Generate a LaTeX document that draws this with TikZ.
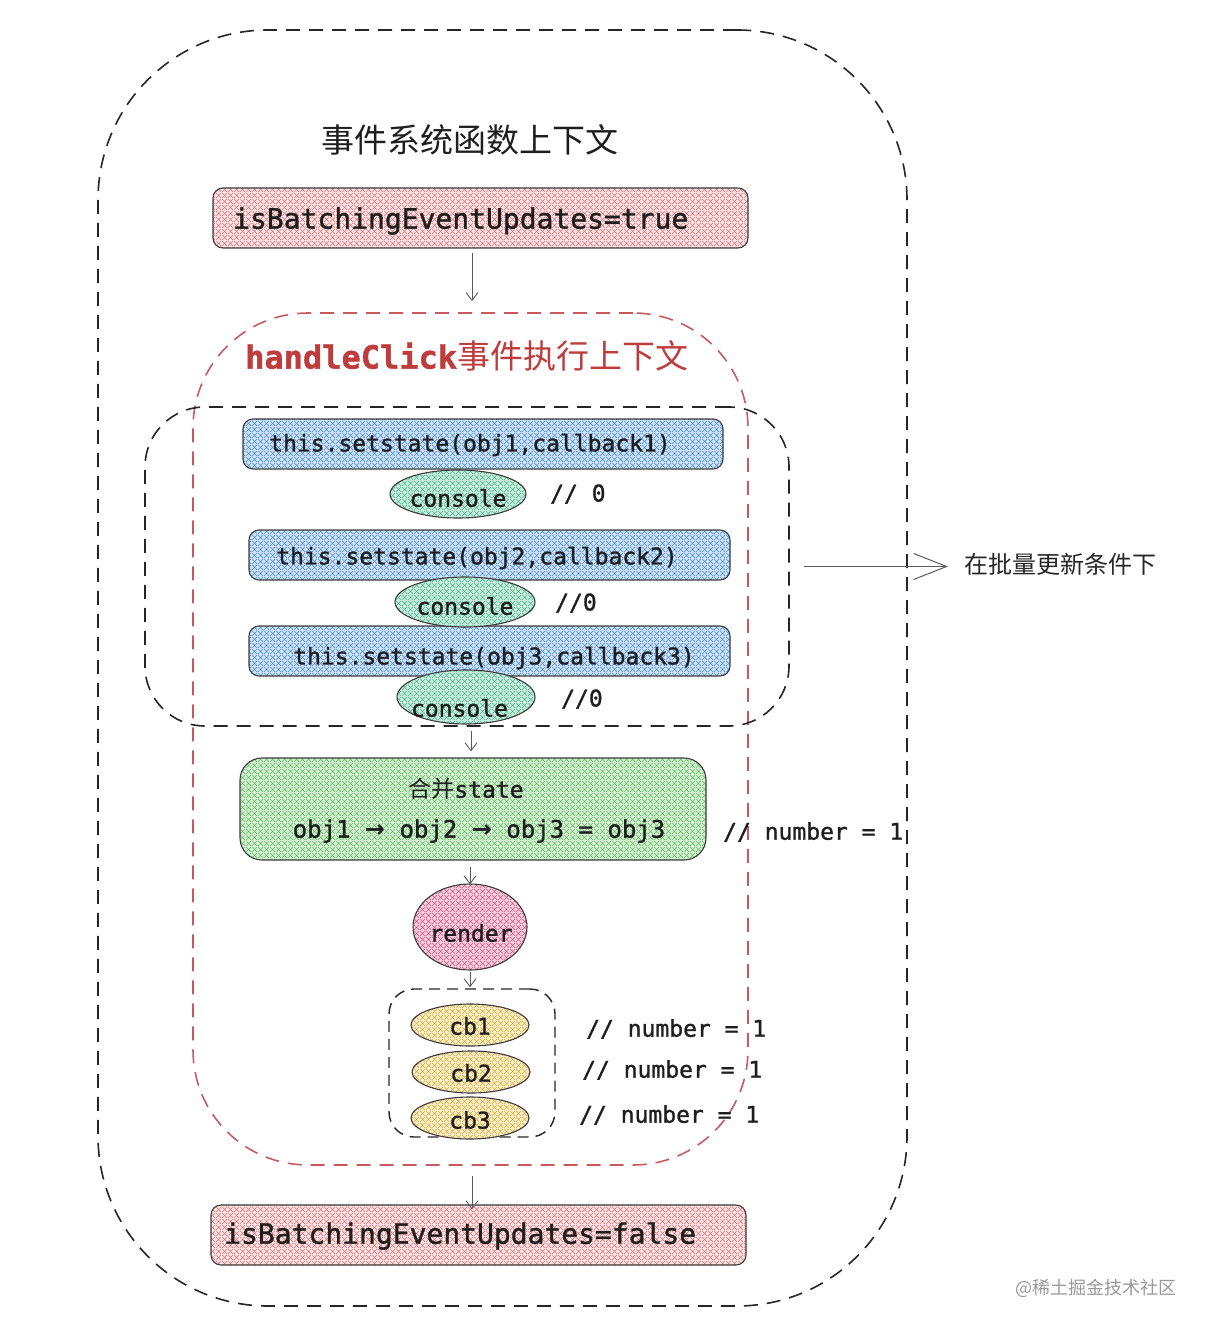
\documentclass[tikz,border=0pt]{standalone}
\usepackage{fontspec}
\setmonofont[FakeBold=1.2]{DejaVu Sans Mono}
\newfontfamily\cjk{Noto Sans CJK SC}
\newfontfamily\symf{DejaVu Sans}
\usetikzlibrary{arrows.meta,patterns.meta,shapes.geometric}
\definecolor{ink}{RGB}{30,30,30}
\definecolor{edge}{RGB}{60,60,60}
\definecolor{arrgrey}{RGB}{90,90,90}
\definecolor{redline}{RGB}{200,90,95}
\definecolor{redtext}{RGB}{190,60,60}
\definecolor{redbg}{RGB}{252,228,228}
\definecolor{redhat}{RGB}{225,120,125}
\definecolor{bluebg}{RGB}{205,228,248}
\definecolor{bluehat}{RGB}{85,140,210}
\definecolor{tealbg}{RGB}{200,238,222}
\definecolor{tealhat}{RGB}{85,180,145}
\definecolor{greenbg}{RGB}{212,240,210}
\definecolor{greenhat}{RGB}{110,190,110}
\definecolor{pinkbg}{RGB}{245,205,220}
\definecolor{pinkhat}{RGB}{210,90,130}
\definecolor{yellowbg}{RGB}{252,238,195}
\definecolor{yellowhat}{RGB}{210,175,80}
\tikzdeclarepattern{name=xhatch, type=uncolored,
  bounding box={(0pt,0pt) and (6pt,6pt)}, tile size={(6pt,6pt)},
  code={\draw[line width=0.7pt] (0pt,0pt)--(6pt,6pt) (0pt,6pt)--(6pt,0pt);}}
\tikzset{
  hatch/.style 2 args={preaction={fill=#1}, pattern=xhatch, pattern color=#2},
  box/.style={draw=edge, line width=1.1pt, rounded corners=10pt, inner sep=0pt},
  redbox/.style={box, hatch={redbg}{redhat}, minimum width=535, minimum height=60},
  bluebox/.style={box, hatch={bluebg}{bluehat}, minimum height=50},
  oval/.style={ellipse, draw=edge, line width=1.1pt, inner sep=0pt},
  region/.style={draw=black!85, line width=1.6pt, dash pattern=on 14pt off 9pt},
  mono/.style={font=\ttfamily\fontsize{23}{27}\selectfont, text=ink, inner sep=0pt},
  big/.style={font=\ttfamily\fontsize{28}{32}\selectfont, text=ink, inner sep=0pt},
  arr/.style={draw=arrgrey, line width=0.9pt, -{Straight Barb[length=8pt,width=12pt]}},
}
\newcommand{\rarr}{{\symf\bfseries →}}
\begin{document}
\begin{tikzpicture}[x=1pt,y=-1pt]
\useasboundingbox (0,0) rectangle (1210,1332);
% regions
\node[region, rounded corners=170pt, minimum width=809, minimum height=1276, inner sep=0pt] (outer) at (502.5,668) {};
\node[region, draw=redline, rounded corners=115pt, minimum width=555, minimum height=852, inner sep=0pt] (hc) at (470.5,739) {};
\node[region, rounded corners=60pt, minimum width=644, minimum height=319, inner sep=0pt] (batch) at (467,566.5) {};
\node[region, line width=1.4pt, dash pattern=on 11pt off 7pt, rounded corners=25pt, minimum width=166, minimum height=148, inner sep=0pt] (cbg) at (472,1063) {};
% titles
\node[font=\cjk\fontsize{33}{38}\selectfont, text=ink, inner sep=0pt] (title) at (470,140) {事件系统函数上下文};
\node[anchor=west, text=redtext, inner sep=0pt] (hctitle) at (245,356) {{\ttfamily\bfseries\fontsize{32}{36}\selectfont handleClick}{\cjk\fontsize{33}{36}\selectfont 事件执行上下文}};
% top and bottom flags
\node[redbox] (b1) at (480.5,218) {};
\node[big, anchor=west] (t1) at (233,221) {isBatchingEventUpdates=true};
\node[redbox] (b2) at (478.5,1235) {};
\node[big, anchor=west] (t2) at (224,1236) {isBatchingEventUpdates=false};
% setstate boxes
\node[bluebox, minimum width=480] (s1) at (483,444) {};
\node[mono] (st1) at (470,445) {this.setstate(obj1,callback1)};
\node[bluebox, minimum width=481] (s2) at (489.5,555) {};
\node[mono] (st2) at (477,558) {this.setstate(obj2,callback2)};
\node[bluebox, minimum width=481] (s3) at (489.5,651) {};
\node[mono] (st3) at (494,658) {this.setstate(obj3,callback3)};
% consoles
\node[oval, hatch={tealbg}{tealhat}, minimum width=136, minimum height=48] (c1) at (458,494) {};
\node[mono] (ct1) at (458,498) {console};
\node[oval, hatch={tealbg}{tealhat}, minimum width=140, minimum height=50] (c2) at (465,602) {};
\node[mono] (ct2) at (465,606) {console};
\node[oval, hatch={tealbg}{tealhat}, minimum width=138, minimum height=54] (c3) at (466,697) {};
\node[mono] (ct3) at (459.5,708) {console};
\node[mono, anchor=west] (k1) at (550,494) {// 0};
\node[mono, anchor=west] (k2) at (555,603) {//0};
\node[mono, anchor=west] (k3) at (561,699) {//0};
% merge
\node[box, rounded corners=22pt, hatch={greenbg}{greenhat}, minimum width=466, minimum height=102] (merge) at (473,809) {};
\node[mono] (m1) at (466,789) {{\cjk 合并}state};
\node[mono, font=\ttfamily\fontsize{24}{28}\selectfont] (m2) at (479,831) {obj1 \rarr{} obj2 \rarr{} obj3 = obj3};
\node[mono, anchor=west] (n0) at (723,832) {// number = 1};
% render
\node[oval, hatch={pinkbg}{pinkhat}, minimum width=114, minimum height=86] (render) at (470,927) {};
\node[mono] (rt) at (471,933) {render};
% callbacks
\node[oval, hatch={yellowbg}{yellowhat}, minimum width=118, minimum height=42] (cb1) at (470,1025) {};
\node[mono] (cbt1) at (470,1026) {cb1};
\node[oval, hatch={yellowbg}{yellowhat}, minimum width=118, minimum height=42] (cb2) at (471,1072) {};
\node[mono] (cbt2) at (471,1073) {cb2};
\node[oval, hatch={yellowbg}{yellowhat}, minimum width=118, minimum height=42] (cb3) at (470,1118) {};
\node[mono] (cbt3) at (470,1120) {cb3};
\node[mono, anchor=west] (n1) at (586,1029) {// number = 1};
\node[mono, anchor=west] (n2) at (582,1070) {// number = 1};
\node[mono, anchor=west] (n3) at (579,1115) {// number = 1};
% side label
\node[anchor=west, font=\cjk\fontsize{24}{28}\selectfont, text=black!85, inner sep=0pt] (side) at (964,564) {在批量更新条件下};
\node[anchor=east, font=\cjk\fontsize{18}{22}\selectfont, text=black!40, inner sep=0pt] (wm) at (1177,1288) {@稀土掘金技术社区};
% arrows
\draw[arr] ([xshift=-8.5pt,yshift=-4pt]b1.south) -- ([xshift=1.5pt,yshift=11pt]hc.north);
\draw[arr] ([xshift=4pt,yshift=-4pt]batch.south) -- ([xshift=-2pt,yshift=6pt]merge.north);
\draw[arr] ([xshift=-3pt,yshift=-6pt]merge.south) -- ([yshift=-1pt]render.north);
\draw[arr] ([yshift=-1pt]render.south) -- ([xshift=-2pt,yshift=1pt]cbg.north);
\draw[arr] ([xshift=1.5pt,yshift=-10pt]hc.south) -- ([xshift=-6.5pt,yshift=-5pt]b2.north);
\draw[draw=arrgrey, line width=1pt, -{Straight Barb[length=33pt,width=26pt]}] ([xshift=14pt]batch.east) -- ([xshift=-16pt]batch.east -| side.west);
\end{tikzpicture}
\end{document}
